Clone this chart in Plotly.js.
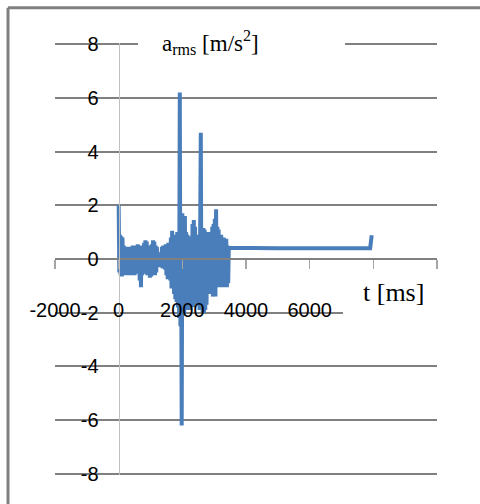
<!DOCTYPE html>
<html>
<head>
<meta charset="utf-8">
<script src="https://cdn.plot.ly/plotly-3.0.1.min.js"></script>
<style>html,body{margin:0;padding:0;background:#fff;}#chart{width:480px;height:504px;}</style>
</head>
<body>
<div id="chart"></div>
<script>
// time [ms]
var t = [
  0, 20, 40, 60, 80, 100, 120, 140, 160, 180,
  200, 220, 240, 260, 280, 300, 320, 340, 360, 380,
  400, 420, 440, 460, 480, 500, 520, 540, 560, 580,
  600, 620, 640, 660, 680, 700, 720, 740, 760, 780,
  800, 820, 840, 860, 880, 900, 920, 940, 960, 980,
  1000, 1020, 1040, 1060, 1080, 1100, 1120, 1140, 1160, 1180,
  1200, 1220, 1240, 1260, 1280, 1300, 1320, 1340, 1360, 1380,
  1400, 1420, 1440, 1460, 1480, 1500, 1520, 1540, 1560, 1580,
  1600, 1620, 1640, 1660, 1680, 1700, 1720, 1740, 1760, 1780,
  1800, 1820, 1840, 1860, 1880, 1900, 1920, 1940, 1960, 1980,
  2000, 2020, 2040, 2060, 2080, 2100, 2120, 2140, 2160, 2180,
  2200, 2220, 2240, 2260, 2280, 2300, 2320, 2340, 2360, 2380,
  2400, 2420, 2440, 2460, 2480, 2500, 2520, 2540, 2560, 2580,
  2600, 2620, 2640, 2660, 2680, 2700, 2720, 2740, 2760, 2780,
  2800, 2820, 2840, 2860, 2880, 2900, 2920, 2940, 2960, 2980,
  3000, 3020, 3040, 3060, 3080, 3100, 3120, 3140, 3160, 3180,
  3200, 3220, 3240, 3260, 3280, 3300, 3320, 3340, 3360, 3380,
  3400, 3420, 3440, 3460, 5000, 7900, 7930, 7950
];
// a_rms [m/s^2]
var a = [
  2.0, -0.5, 0.9, -0.6, 0.85, -0.65, 0.8, -0.55, 0.5, -0.6,
  0.45, -0.55, 0.4, -0.6, 0.45, -0.5, 0.4, -0.55, 0.45, -0.6,
  0.4, -0.5, 0.5, -0.55, 0.45, -0.6, 0.5, -0.5, 0.4, -0.55,
  0.55, -0.5, 0.45, -0.8, 0.4, -1.05, 0.5, -0.6, 0.45, -0.55,
  0.6, -0.5, 0.7, -0.55, 0.65, -0.6, 0.5, -0.55, 0.45, -0.7,
  0.5, -0.65, 0.55, -0.5, 0.7, -0.55, 0.65, -0.6, 0.5, -0.5,
  0.45, -0.3, 0.2, -0.2, 0.1, -0.25, 0.25, -0.3, 0.45, -0.35,
  0.5, -0.3, 0.45, -0.4, 0.55, -0.6, 0.5, -0.75, 0.6, -0.7,
  0.6, -0.8, 0.8, -1.1, 1.05, -1.0, 0.9, -1.3, 0.8, -1.5,
  0.9, -1.6, 1.0, -1.8, 0.8, -2.2, 6.2, -2.5, 1.2, -6.2,
  1.7, -2.1, 1.5, -2.0, 1.6, -1.9, 1.0, -1.8, 0.9, -1.7,
  0.85, -1.9, 0.8, -1.8, 0.85, -1.7, 1.3, -1.8, 1.45, -1.6,
  1.2, -1.7, 0.9, -1.6, 0.85, -1.5, 0.9, -1.9, 1.0, 4.7,
  -1.9, 1.1, -2.0, 1.15, -2.0, 1.1, -1.9, 1.0, -1.7, 0.8,
  -1.3, 0.8, -1.2, 1.0, -1.3, 0.95, -1.3, 1.2, -1.4, 1.3,
  -1.3, 1.5, -1.4, 1.85, -1.05, 1.2, -1.0, 1.1, -1.0, 0.9,
  -1.05, 0.9, -1.0, 0.8, -1.05, 0.8, -1.0, 0.7, -1.05, 0.75,
  -1.05, 0.5, -0.9, 0.42, 0.4, 0.4, 0.7, 0.88
];
var xTickVals = [-2000, 0, 2000, 4000, 6000, 8000, 10000];
var xTickText = ['-2000', '0', '2000', '4000', '6000', '', ''];
var yTickVals = [-8, -6, -4, -2, 0, 2, 4, 6, 8];
var yTickText = ['-8', '-6', '-4', '-2', '0', '2', '4', '6', '8'];

var tickFont = {family: '"Liberation Sans Narrow", "Arial Narrow", "Liberation Sans", Arial, sans-serif', size: 20, color: '#000'};
var serif = '"Liberation Serif", "Times New Roman", serif';

var trace = {
  x: t, y: a, type: 'scatter', mode: 'lines',
  line: {color: '#4a7ebb', width: 4},
  hoverinfo: 'none'
};

var layout = {
  width: 480, height: 504,
  margin: {l: 55, r: 43, t: 43, b: 29, pad: 0},
  paper_bgcolor: '#fff', plot_bgcolor: '#fff',
  showlegend: false,
  xaxis: {
    range: [-2000, 10000], anchor: 'free', position: 0.5,
    tickvals: xTickVals, ticktext: xTickText,
    ticks: 'outside', ticklen: 9, tickwidth: 1.5, tickcolor: '#a6a6a6',
    ticklabelstandoff: 24,
    showgrid: false, zeroline: false,
    showline: true, linecolor: '#808080', linewidth: 2,
    tickfont: tickFont, fixedrange: true
  },
  yaxis: {
    range: [-8.04, 8.04], anchor: 'free', position: 2000 / 12000,
    tickvals: yTickVals, ticktext: yTickText,
    ticks: '', ticklabelstandoff: 16,
    showgrid: true, gridcolor: '#808080', gridwidth: 2,
    zeroline: false,
    showline: true, linecolor: '#c0c0c0', linewidth: 1.2,
    tickfont: tickFont, fixedrange: true
  },
  shapes: [
    {type: 'rect', xref: 'paper', yref: 'paper', x0: 0.2173, x1: 0.7592, y0: 0.975, y1: 1.02,
     fillcolor: '#fff', line: {width: 0}, layer: 'above'},
    {type: 'rect', xref: 'paper', yref: 'paper', x0: 0.7539, x1: 1.02, y0: 0.3465, y1: 0.4628,
     fillcolor: '#fff', line: {width: 0}, layer: 'above'},
    {type: 'line', xref: 'paper', yref: 'paper', x0: -0.123, x1: 1.13, y0: 1.0814, y1: 1.0814,
     line: {color: '#808080', width: 3}, layer: 'above'},
    {type: 'line', xref: 'paper', yref: 'paper', x0: -0.123, x1: -0.123, y0: 1.0814, y1: -0.08,
     line: {color: '#808080', width: 3}, layer: 'above'}
  ],
  annotations: [
    {xref: 'paper', yref: 'paper', x: 0.4058, y: 1.0023, xanchor: 'center', yanchor: 'middle',
     text: 'a<sub>rms</sub> [m/s<sup>2</sup>]', showarrow: false,
     font: {family: serif, size: 23, color: '#000'}},
    {xref: 'paper', yref: 'paper', x: 0.8874, y: 0.4233, xanchor: 'center', yanchor: 'middle',
     text: 't [ms]', showarrow: false,
     font: {family: serif, size: 26, color: '#000'}}
  ]
};

Plotly.newPlot('chart', [trace], layout, {displayModeBar: false, staticPlot: true});
</script>
</body>
</html>
